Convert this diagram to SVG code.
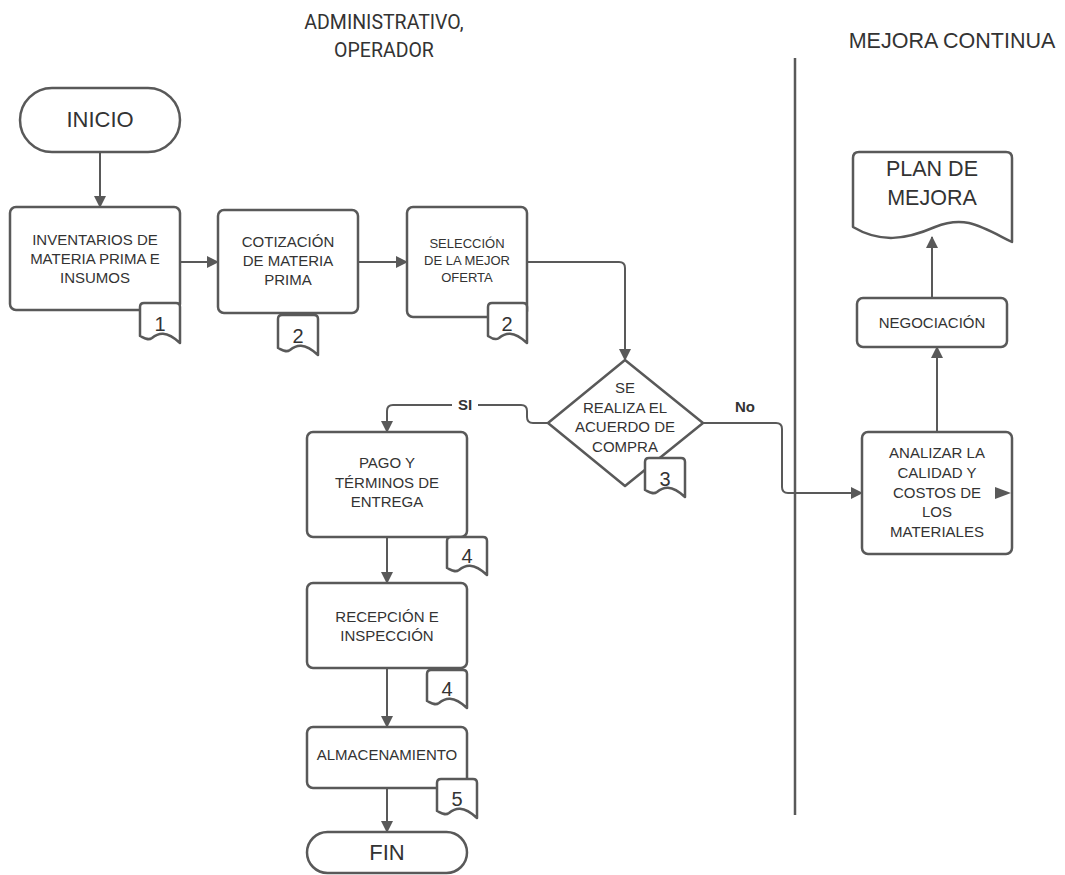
<svg xmlns="http://www.w3.org/2000/svg" width="1065" height="875" viewBox="0 0 1065 875">
  <defs>
    <marker id="arrow" viewBox="0 0 12 12" refX="11" refY="6" markerWidth="12" markerHeight="12" markerUnits="userSpaceOnUse" orient="auto">
      <path d="M0,0 L12,6 L0,12 Z" fill="#595959"/>
    </marker>
    <style>
      .shape { fill: #ffffff; stroke: #595959; stroke-width: 2.5; stroke-linejoin: round; }
      .conn { fill: none; stroke: #595959; stroke-width: 2; }
      .txt { font-family: "Liberation Sans", Arial, sans-serif; fill: #333333; text-anchor: middle; }
      .t15 { font-size: 15px; }
      .t13 { font-size: 13px; }
      .big { font-size: 22px; }
      .num { font-size: 20px; }
      .lbl { font-family: "Liberation Sans", Arial, sans-serif; font-size: 15px; font-weight: bold; fill: #333333; text-anchor: middle; }
      .head { font-family: Roboto, "Liberation Sans", sans-serif; font-size: 19.5px; fill: #333333; text-anchor: middle; }
    </style>
  </defs>

  <!-- lane headers and divider -->
  <g id="headers">
    <text class="head" x="384" y="29">ADMINISTRATIVO,</text>
    <text class="head" x="384" y="57">OPERADOR</text>
    <text class="txt" font-size="21.5" x="952" y="48">MEJORA CONTINUA</text>
    <line x1="795" y1="58" x2="795" y2="815" stroke="#595959" stroke-width="2.5"/>
  </g>

  <!-- connectors -->
  <g id="connectors">
    <path class="conn" d="M100,152 V207" marker-end="url(#arrow)"/>
    <path class="conn" d="M180,262 H218" marker-end="url(#arrow)"/>
    <path class="conn" d="M358,262 H407" marker-end="url(#arrow)"/>
    <path class="conn" d="M527,262 H619 Q625,262 625,268 V360" marker-end="url(#arrow)"/>
    <path class="conn" d="M548,423 H533 Q527,423 527,417 V411 Q527,405 521,405 H478"/>
    <path class="conn" d="M452,405 H393 Q387,405 387,411 V432" marker-end="url(#arrow)"/>
    <text class="lbl" x="465" y="410">SI</text>
    <path class="conn" d="M703,423 H776 Q782,423 782,429 V487 Q782,493 788,493 H862" marker-end="url(#arrow)"/>
    <text class="lbl" x="745" y="412">No</text>
    <path class="conn" d="M387,537 V583" marker-end="url(#arrow)"/>
    <path class="conn" d="M387,668 V727" marker-end="url(#arrow)"/>
    <path class="conn" d="M387,788 V832" marker-end="url(#arrow)"/>
    <path class="conn" d="M937,432 V347" marker-end="url(#arrow)"/>
    <path class="conn" d="M932,298 V237" marker-end="url(#arrow)"/>
  </g>

  <g id="inicio">
    <rect class="shape" x="20" y="88" width="160" height="64" rx="32"/>
    <text class="txt big" x="100" y="127">INICIO</text>
  </g>

  <g id="inventarios">
    <rect class="shape" x="10" y="207" width="170" height="103" rx="6"/>
    <text class="txt t15" x="95" y="245">INVENTARIOS DE</text>
    <text class="txt t15" x="95" y="264">MATERIA PRIMA E</text>
    <text class="txt t15" x="95" y="283">INSUMOS</text>
    <path class="shape" d="M140,336 V307 Q140,303 144,303 H176 Q180,303 180,307 V343 C166,330 158,333 152,338 C148,341 144,338 140,336 Z"/>
    <text class="txt num" x="160" y="331">1</text>
  </g>

  <g id="cotizacion">
    <rect class="shape" x="218" y="210" width="140" height="103" rx="6"/>
    <text class="txt t15" x="288" y="247">COTIZACIÓN</text>
    <text class="txt t15" x="288" y="266">DE MATERIA</text>
    <text class="txt t15" x="288" y="285">PRIMA</text>
    <path class="shape" d="M278,348 V319 Q278,315 282,315 H314 Q318,315 318,319 V355 C304,342 296,345 290,350 C286,353 282,350 278,348 Z"/>
    <text class="txt num" x="298" y="343">2</text>
  </g>

  <g id="seleccion">
    <rect class="shape" x="407" y="207" width="120" height="110" rx="6"/>
    <text class="txt t13" x="467" y="248">SELECCIÓN</text>
    <text class="txt t13" x="467" y="265">DE LA MEJOR</text>
    <text class="txt t13" x="467" y="282">OFERTA</text>
    <path class="shape" d="M488,336 V307 Q488,303 492,303 H523 Q527,303 527,307 V343 C513,330 505,333 499,338 C495,341 491,338 488,336 Z"/>
    <text class="txt num" x="507" y="331">2</text>
  </g>

  <g id="decision">
    <polygon class="shape" points="625,360 703,423 625,486 548,423"/>
    <text class="txt t15" x="625" y="393">SE</text>
    <text class="txt t15" x="625" y="413">REALIZA EL</text>
    <text class="txt t15" x="625" y="432">ACUERDO DE</text>
    <text class="txt t15" x="625" y="452">COMPRA</text>
    <path class="shape" d="M645,490 V462 Q645,458 649,458 H681 Q685,458 685,462 V497 C671,484 663,487 657,492 C653,495 649,492 645,490 Z"/>
    <text class="txt num" x="665" y="486">3</text>
  </g>

  <g id="pago">
    <rect class="shape" x="307" y="432" width="160" height="105" rx="6"/>
    <text class="txt t15" x="387" y="468">PAGO Y</text>
    <text class="txt t15" x="387" y="488">TÉRMINOS DE</text>
    <text class="txt t15" x="387" y="507">ENTREGA</text>
    <path class="shape" d="M447,568 V541 Q447,537 451,537 H483 Q487,537 487,541 V575 C473,562 465,565 459,570 C455,573 451,570 447,568 Z"/>
    <text class="txt num" x="467" y="563">4</text>
  </g>

  <g id="recepcion">
    <rect class="shape" x="307" y="583" width="160" height="85" rx="6"/>
    <text class="txt t15" x="387" y="622">RECEPCIÓN E</text>
    <text class="txt t15" x="387" y="641">INSPECCIÓN</text>
    <path class="shape" d="M427,701 V674 Q427,670 431,670 H463 Q467,670 467,674 V708 C453,695 445,698 439,703 C435,706 431,703 427,701 Z"/>
    <text class="txt num" x="447" y="696">4</text>
  </g>

  <g id="almacenamiento">
    <rect class="shape" x="307" y="727" width="160" height="61" rx="6"/>
    <text class="txt t15" x="387" y="760">ALMACENAMIENTO</text>
    <path class="shape" d="M437,811 V783 Q437,779 441,779 H473 Q477,779 477,783 V818 C463,805 455,808 449,813 C445,816 441,813 437,811 Z"/>
    <text class="txt num" x="457" y="806">5</text>
  </g>

  <g id="fin">
    <rect class="shape" x="307" y="832" width="160" height="41" rx="20.5"/>
    <text class="txt big" x="387" y="860">FIN</text>
  </g>

  <g id="analizar">
    <rect class="shape" x="862" y="432" width="150" height="122" rx="6"/>
    <text class="txt t15" x="937" y="458">ANALIZAR LA</text>
    <text class="txt t15" x="937" y="478">CALIDAD Y</text>
    <text class="txt t15" x="937" y="498">COSTOS DE</text>
    <text class="txt t15" x="937" y="517">LOS</text>
    <text class="txt t15" x="937" y="537">MATERIALES</text>
    <path d="M995,487 L1011,493 L995,499 Z" fill="#595959"/>
  </g>

  <g id="negociacion">
    <rect class="shape" x="857" y="298" width="150" height="49" rx="6"/>
    <text class="txt t15" x="932" y="328">NEGOCIACIÓN</text>
  </g>

  <g id="plan-mejora">
    <path class="shape" d="M853,227 V158 Q853,152 859,152 H1006 Q1012,152 1012,158 V242 C980,226 965,215 935,227 C905,240 880,243 853,227 Z"/>
    <text class="txt" font-size="21.5" x="932" y="176">PLAN DE</text>
    <text class="txt" font-size="21.5" x="932" y="205">MEJORA</text>
  </g>
</svg>
